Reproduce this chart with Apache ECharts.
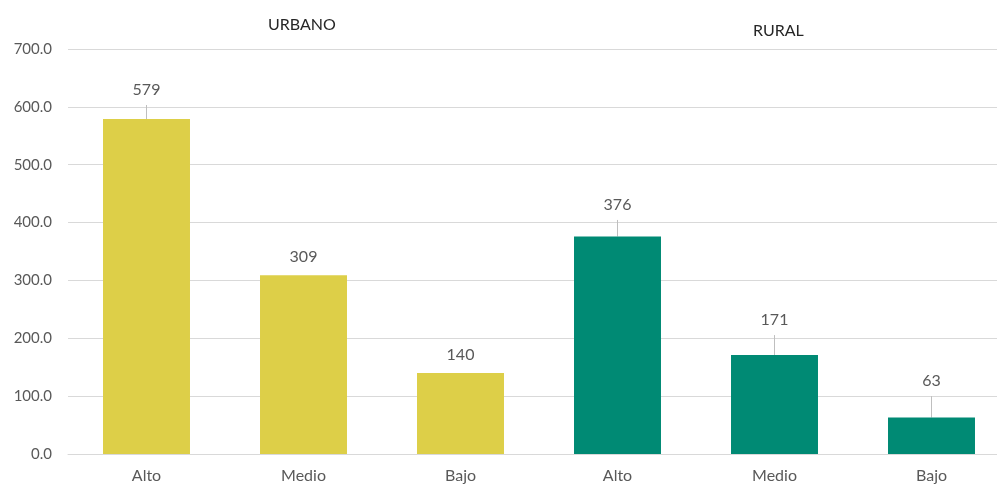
<!DOCTYPE html>
<html>
<head>
<meta charset="utf-8">
<script src="https://cdn.jsdelivr.net/npm/echarts@6/dist/echarts.min.js"></script>
<style>
  html, body { margin: 0; padding: 0; background: #fff; }
  #chart { width: 997px; height: 484px; }
</style>
</head>
<body>
<div id="chart"></div>
<script>
const categories = ["Alto", "Medio", "Bajo", "Alto", "Medio", "Bajo"];
const groups = ["URBANO", "URBANO", "URBANO", "RURAL", "RURAL", "RURAL"];
const values = [579, 309, 140, 376, 171, 63];

// label lift above the bar top, in px (labels were dragged up in the original)
const labelLift = [29, 18, 18, 31.5, 35, 36.5];
const groupColors = { URBANO: "#DDCF48", RURAL: "#008A74" };

const chart = echarts.init(document.getElementById("chart"));

const barData = values.map((v, i) => ({
  value: v,
  itemStyle: { color: groupColors[groups[i]] },
  label: { distance: labelLift[i] - 8 },
}));

const option = {
  animation: false,
  textStyle: { fontFamily: "Lato" },
  // plot area runs a bit past the right edge, as in the original
  grid: { left: 68, width: 942, top: 49, bottom: 30, outerBoundsMode: "none" },
  graphic: [
    {
      type: "text", left: 268, top: 17,
      style: { text: "URBANO", fontSize: 16, fill: "#262626", fontFamily: "Lato" },
    },
    {
      type: "text", left: 753, top: 23,
      style: { text: "RURAL", fontSize: 16, fill: "#262626", fontFamily: "Lato" },
    },
  ],
  xAxis: {
    type: "category",
    data: categories,
    axisTick: { show: false },
    axisLine: { lineStyle: { color: "#D9D9D9" } },
    axisLabel: { color: "#595959", fontSize: 16, margin: 14 },
  },
  yAxis: {
    type: "value",
    min: 0,
    max: 700,
    interval: 100,
    axisLabel: {
      color: "#595959",
      fontSize: 15,
      margin: 16,
      formatter: (v) => v.toFixed(1),
    },
    splitLine: { lineStyle: { color: "#D9D9D9" } },
  },
  series: [
    {
      type: "bar",
      data: barData,
      barWidth: "55.4%",
      label: {
        show: true,
        position: "top",
        color: "#595959",
        fontSize: 16,
      },
    },
    {
      // leader lines from bar top to the moved label
      type: "custom",
      data: values.map((v, i) => [i, v]),
      z: 1,
      silent: true,
      renderItem: (params, api) => {
        const lift = labelLift[params.dataIndex];
        if (lift < 25) return null;
        const p = api.coord([api.value(0), api.value(1)]);
        return {
          type: "line",
          shape: { x1: p[0], y1: p[1], x2: p[0], y2: p[1] - (lift - 15) },
          style: { stroke: "#BFBFBF", lineWidth: 1 },
        };
      },
    },
  ],
};

chart.setOption(option);
</script>
</body>
</html>
